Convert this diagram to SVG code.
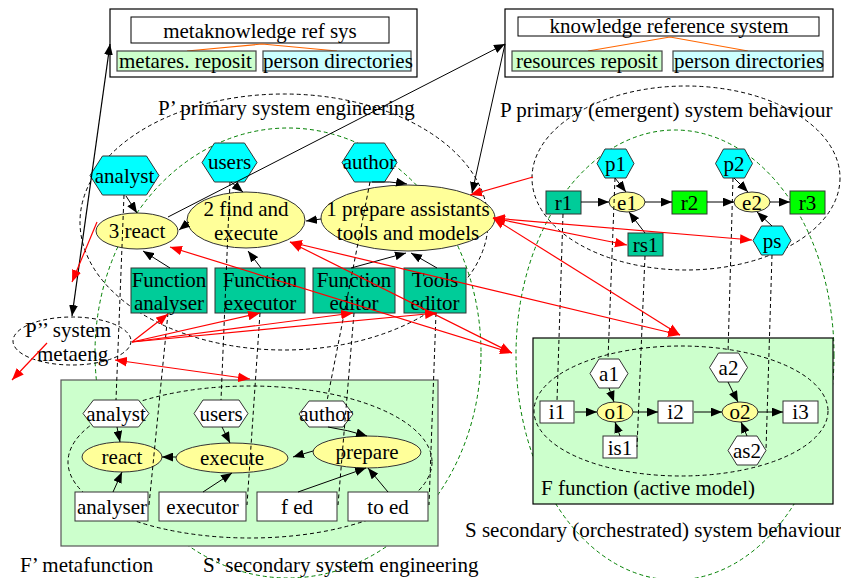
<svg xmlns="http://www.w3.org/2000/svg" width="841" height="578" viewBox="0 0 841 578">
<defs>
<style>
text{font-family:"Liberation Serif","Times New Roman",serif;font-size:21px;fill:#000}
.m{text-anchor:middle}
.big{fill:none;stroke:#000;stroke-width:1;stroke-dasharray:4,3}
.gbig{fill:none;stroke:#008000;stroke-width:1;stroke-dasharray:4,3}
.cy{fill:#00FFFF;stroke:#333;stroke-width:1}
.yl{fill:#FFFF99;stroke:#333;stroke-width:1}
.tl{fill:#00CC99;stroke:#333;stroke-width:1}
.gr{fill:#00FF00;stroke:#333;stroke-width:1}
.wh{fill:#fff;stroke:#333;stroke-width:1}
.lg{fill:#CCFFCC;stroke:#444;stroke-width:1.2}
.lc{fill:#CCFFFF;stroke:#444;stroke-width:1.2}
.ar{fill:none;stroke:#000;stroke-width:1;marker-end:url(#ab)}
.ds{fill:none;stroke:#000;stroke-width:1;stroke-dasharray:4,3}
.rd{fill:none;stroke:#FF0000;stroke-width:1.2;marker-end:url(#ar)}
.rd2{fill:none;stroke:#FF0000;stroke-width:1.2;marker-end:url(#ar);marker-start:url(#ar)}
.or{stroke:#FF6600;stroke-width:1.2;fill:none}
</style>
<marker id="ab" viewBox="0 0 10 8" refX="10" refY="4" markerWidth="11" markerHeight="9" orient="auto-start-reverse" markerUnits="userSpaceOnUse"><path d="M0,0 L10,4 L0,8 z" fill="#000"/></marker>
<marker id="ar" viewBox="0 0 10 8" refX="10" refY="4" markerWidth="12" markerHeight="10" orient="auto-start-reverse" markerUnits="userSpaceOnUse"><path d="M0,0 L10,4 L0,8 z" fill="#FF0000"/></marker>
</defs>

<!-- large region ellipses -->
<g id="regions">
<ellipse class="big" cx="284" cy="222" rx="204" ry="128"/>
<ellipse class="gbig" cx="288" cy="353" rx="193" ry="225"/>
<ellipse class="big" cx="686" cy="178" rx="154" ry="92"/>
<ellipse class="gbig" cx="675" cy="355" rx="159" ry="225"/>
<text x="158" y="115">P’ primary system engineering</text>
<text x="500" y="117">P primary (emergent) system behaviour</text>
<text x="465" y="537">S secondary (orchestrated) system behaviour</text>
<text x="203" y="572">S’ secondary system engineering</text>
</g>

<g id="Pmeta">
<ellipse class="big" cx="72" cy="341" rx="59" ry="24"/>
<text x="25" y="337">P’’ system</text>
<text x="37" y="361">metaeng</text>
</g>

<g id="Fprime">
<rect class="lg" x="61" y="380" width="377" height="166" style="stroke:#555"/>
<ellipse class="big" cx="250" cy="462" rx="182" ry="76"/>
<text x="20" y="572">F’ metafunction</text>
</g>

<g id="Ffunc">
<rect class="lg" x="533" y="338" width="300" height="166" style="stroke:#000"/>
<ellipse class="big" cx="681" cy="411" rx="147" ry="65"/>
<text x="541" y="495">F function (active model)</text>
</g>

<!-- top reference systems -->
<g id="metaknowledge">
<rect x="110" y="9" width="307" height="68" fill="#fff" stroke="#000" stroke-width="1.2"/>
<rect x="131" y="17" width="258" height="26" fill="#fff" stroke="#000"/>
<text class="m" x="260" y="38">metaknowledge ref sys</text>
<path class="or" d="M187,51 L262,44 L337,51"/>
<rect class="lg" x="117" y="51" width="139" height="20"/>
<text x="119" y="68">metares. reposit</text>
<rect class="lc" x="263" y="51" width="148" height="20"/>
<text x="263" y="68">person directories</text>
</g>
<g id="knowledge">
<rect x="505" y="9" width="328" height="68" fill="#fff" stroke="#000" stroke-width="1.2"/>
<rect x="518" y="17" width="301" height="19" fill="#fff" stroke="#000"/>
<text class="m" x="669" y="33">knowledge reference system</text>
<path class="or" d="M588,51 L670,37 L748,51"/>
<rect class="lg" x="512" y="51" width="150" height="20"/>
<text x="516" y="68">resources reposit</text>
<rect class="lc" x="673" y="51" width="150" height="20"/>
<text x="674" y="68">person directories</text>
</g>

<!-- P' nodes -->
<g id="analystP"><polygon class="cy" points="90,175.5 102.5,156 146.5,156 159,175.5 146.5,195 102.5,195"/><text class="m" x="124.5" y="183">analyst</text></g>
<g id="usersP"><polygon class="cy" points="202,162.5 214.5,143 244.5,143 257,162.5 244.5,182 214.5,182"/><text class="m" x="229.5" y="169">users</text></g>
<g id="authorP"><polygon class="cy" points="342,162.5 354.5,143 384.5,143 397,162.5 384.5,182 354.5,182"/><text class="m" x="369.5" y="169">author</text></g>
<g id="react3"><ellipse class="yl" cx="137" cy="231" rx="41" ry="18"/><text class="m" x="137" y="238">3 react</text></g>
<g id="find2"><ellipse class="yl" cx="246" cy="220" rx="59" ry="28"/><text class="m" x="246" y="216">2 find and</text><text class="m" x="246" y="240">execute</text></g>
<g id="prepare1"><ellipse class="yl" cx="408" cy="218" rx="87" ry="33"/><text class="m" x="408" y="216">1 prepare assistants</text><text class="m" x="408" y="240">tools and models</text></g>
<g id="fanalyser"><rect class="tl" x="131" y="268" width="76" height="45"/><text class="m" x="169" y="287">Function</text><text class="m" x="169" y="310">analyser</text></g>
<g id="fexecutor"><rect class="tl" x="215" y="268" width="90" height="45"/><text class="m" x="260" y="287">Function</text><text class="m" x="260" y="310">executor</text></g>
<g id="feditor"><rect class="tl" x="313" y="268" width="82" height="45"/><text class="m" x="354" y="287">Function</text><text class="m" x="354" y="310">editor</text></g>
<g id="teditor"><rect class="tl" x="404" y="268" width="62" height="45"/><text class="m" x="435" y="287">Tools</text><text class="m" x="435" y="310">editor</text></g>

<!-- P nodes -->
<g id="p1"><polygon class="cy" points="597,163.5 605,149 626,149 634,163.5 626,178 605,178"/><text class="m" x="615.5" y="171">p1</text></g>
<g id="p2"><polygon class="cy" points="715.5,163.5 723.5,149 744.5,149 752.5,163.5 744.5,178 723.5,178"/><text class="m" x="734" y="171">p2</text></g>
<g id="ps"><polygon class="cy" points="753,240.5 761.5,226 782.5,226 791,240.5 782.5,255 761.5,255"/><text class="m" x="772" y="248">ps</text></g>
<g id="r1"><rect class="tl" x="546" y="191" width="35" height="23"/><text class="m" x="563.5" y="210">r1</text></g>
<g id="e1"><ellipse class="yl" cx="627" cy="202" rx="18" ry="10"/><text class="m" x="627" y="210">e1</text></g>
<g id="r2"><rect class="gr" x="672" y="191" width="35" height="23"/><text class="m" x="689.5" y="210">r2</text></g>
<g id="e2"><ellipse class="yl" cx="752" cy="202" rx="18" ry="10"/><text class="m" x="752" y="210">e2</text></g>
<g id="r3"><rect class="gr" x="790" y="191" width="35" height="23"/><text class="m" x="807.5" y="210">r3</text></g>
<g id="rs1"><rect class="tl" x="628" y="233" width="35" height="23"/><text class="m" x="645.5" y="252">rs1</text></g>

<!-- F' nodes -->
<g id="analystF"><polygon class="wh" points="83,413.5 93.5,400 138.5,400 149,413.5 138.5,427 93.5,427"/><text class="m" x="116" y="421">analyst</text></g>
<g id="usersF"><polygon class="wh" points="194,413.5 203,400 239,400 248,413.5 239,427 203,427"/><text class="m" x="221" y="421">users</text></g>
<g id="authorF"><polygon class="wh" points="299,414 309,401 343,401 353,414 343,427 309,427"/><text class="m" x="326" y="421">author</text></g>
<g id="react"><ellipse class="yl" cx="122" cy="457" rx="40" ry="15"/><text class="m" x="122" y="464">react</text></g>
<g id="execute"><ellipse class="yl" cx="232" cy="458" rx="56" ry="15"/><text class="m" x="232" y="465">execute</text></g>
<g id="prepare"><ellipse class="yl" cx="367" cy="452" rx="54" ry="16"/><text class="m" x="367" y="459">prepare</text></g>
<g id="analyser"><rect class="wh" x="75" y="492" width="73" height="29"/><text class="m" x="112" y="514">analyser</text></g>
<g id="executor"><rect class="wh" x="159" y="492" width="87" height="29"/><text class="m" x="202.5" y="514">executor</text></g>
<g id="fed"><rect class="wh" x="257" y="492" width="80" height="29"/><text class="m" x="297" y="514">f ed</text></g>
<g id="toed"><rect class="wh" x="348" y="492" width="80" height="29"/><text class="m" x="388" y="514">to ed</text></g>

<!-- F nodes -->
<g id="i1"><rect class="wh" x="540" y="401" width="34" height="22"/><text class="m" x="557" y="419">i1</text></g>
<g id="o1"><ellipse class="yl" cx="615" cy="412" rx="18" ry="10"/><text class="m" x="615" y="419">o1</text></g>
<g id="i2"><rect class="wh" x="658" y="401" width="35" height="22"/><text class="m" x="675.5" y="419">i2</text></g>
<g id="o2"><ellipse class="yl" cx="740" cy="412" rx="18" ry="10"/><text class="m" x="740" y="419">o2</text></g>
<g id="i3"><rect class="wh" x="783" y="401" width="35" height="22"/><text class="m" x="800.5" y="419">i3</text></g>
<g id="a1"><polygon class="wh" points="590,373.5 599,359 619,359 628,373.5 619,388 599,388"/><text class="m" x="609" y="381">a1</text></g>
<g id="a2"><polygon class="wh" points="709.5,367.5 718.5,353 738.5,353 747.5,367.5 738.5,382 718.5,382"/><text class="m" x="728.5" y="375">a2</text></g>
<g id="as2"><polygon class="wh" points="728,450.5 737,436 757,436 766,450.5 757,465 737,465"/><text class="m" x="747" y="458">as2</text></g>
<g id="is1"><rect class="wh" x="603" y="436" width="34" height="22"/><text class="m" x="620" y="455">is1</text></g>

<!-- connectors -->
<g id="connectors">
<!-- P' internal -->
<line class="ar" x1="126" y1="196" x2="137" y2="213"/>
<line class="ar" x1="231" y1="182" x2="243" y2="192"/>
<path class="ar" d="M372,182 Q390,181 407,184"/>
<line class="ar" x1="189" y1="222" x2="179" y2="230"/>
<line class="ar" x1="321" y1="219" x2="306" y2="221"/>
<line class="ar" x1="170" y1="268" x2="143" y2="251"/>
<line class="ar" x1="261" y1="268" x2="248" y2="251"/>
<line class="ar" x1="351" y1="268" x2="406" y2="253"/>
<line class="ar" x1="437" y1="268" x2="411" y2="253"/>
<!-- P internal -->
<line class="ar" x1="581" y1="202" x2="609" y2="202"/>
<line class="ar" x1="645" y1="202" x2="672" y2="202"/>
<line class="ar" x1="707" y1="202" x2="734" y2="202"/>
<line class="ar" x1="770" y1="202" x2="790" y2="202"/>
<line class="ar" x1="615" y1="178" x2="626" y2="192"/>
<line class="ar" x1="734" y1="178" x2="748" y2="192"/>
<line class="ar" x1="645" y1="233" x2="629" y2="212"/>
<line class="ar" x1="772" y1="226" x2="757" y2="212"/>
<!-- F internal -->
<line class="ar" x1="575" y1="412" x2="597" y2="412"/>
<line class="ar" x1="633" y1="412" x2="658" y2="412"/>
<line class="ar" x1="694" y1="412" x2="722" y2="412"/>
<line class="ar" x1="758" y1="412" x2="783" y2="412"/>
<line class="ar" x1="609" y1="388" x2="614" y2="402"/>
<line class="ar" x1="620" y1="436" x2="615" y2="422"/>
<line class="ar" x1="728" y1="382" x2="738" y2="402"/>
<line class="ar" x1="747" y1="436" x2="741" y2="422"/>
<!-- F' internal -->
<line class="ar" x1="117" y1="427" x2="120" y2="442"/>
<line class="ar" x1="222" y1="427" x2="230" y2="443"/>
<path class="ar" d="M328,427 Q348,430 367,436"/>
<line class="ar" x1="176" y1="457" x2="162" y2="457"/>
<line class="ar" x1="313" y1="451" x2="293" y2="457"/>
<line class="ar" x1="113" y1="492" x2="122" y2="472"/>
<line class="ar" x1="203" y1="492" x2="232" y2="473"/>
<line class="ar" x1="298" y1="492" x2="366" y2="468"/>
<line class="ar" x1="388" y1="492" x2="368" y2="468"/>
<!-- mapping dashed lines -->
<line class="ds" x1="124" y1="195" x2="116" y2="400"/>
<line class="ds" x1="230" y1="182" x2="221" y2="400"/>
<line class="ds" x1="370" y1="182" x2="327" y2="401"/>
<line class="ds" x1="168" y1="313" x2="149" y2="505"/>
<line class="ds" x1="260" y1="313" x2="247" y2="505"/>
<line class="ds" x1="354" y1="313" x2="338" y2="505"/>
<line class="ds" x1="436" y1="313" x2="429" y2="505"/>
<line class="ds" x1="563" y1="214" x2="557" y2="401"/>
<line class="ds" x1="615" y1="178" x2="608" y2="359"/>
<line class="ds" x1="645" y1="256" x2="637" y2="447"/>
<line class="ds" x1="733" y1="178" x2="728" y2="353"/>
<line class="ds" x1="772" y1="255" x2="766" y2="450"/>
<!-- black long arrows -->
<line fill="none" stroke="#000" stroke-width="1.2" marker-start="url(#ab)" marker-end="url(#ab)" x1="72" y1="316" x2="110" y2="44"/>
<line class="ar" x1="168" y1="217" x2="505" y2="44"/>
<line class="ar" x1="505" y1="44" x2="472" y2="193"/>
<!-- red -->
<line class="rd" x1="533" y1="177" x2="470" y2="195"/>
<line class="rd2" x1="493" y1="218" x2="627" y2="245"/>
<line class="rd2" x1="493" y1="218" x2="752" y2="240"/>
<line class="rd2" x1="493" y1="218" x2="680" y2="335"/>
<line class="rd2" x1="290" y1="242" x2="680" y2="335"/>
<line class="rd2" x1="290" y1="242" x2="512" y2="353"/>
<line class="rd2" x1="170" y1="247" x2="512" y2="353"/>
<line class="rd" x1="132" y1="342" x2="168" y2="314"/>
<line class="rd" x1="132" y1="342" x2="260" y2="313"/>
<line class="rd" x1="132" y1="342" x2="353" y2="313"/>
<line class="rd" x1="132" y1="342" x2="437" y2="313"/>
<line class="rd2" x1="115" y1="360" x2="250" y2="379"/>
<line class="rd" x1="97" y1="222" x2="72" y2="282"/>
<line class="rd" x1="47" y1="343" x2="12" y2="380"/>
</g>
</svg>
